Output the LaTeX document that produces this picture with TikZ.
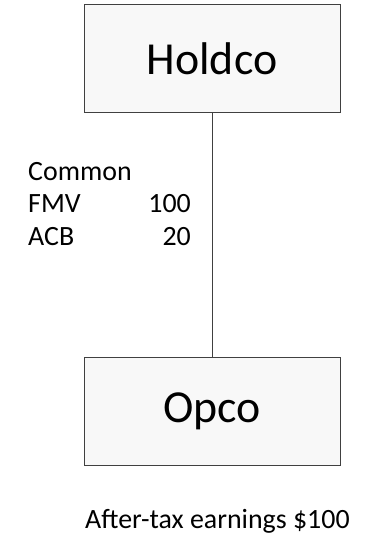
\documentclass[tikz,border=0pt]{standalone}
\usepackage{fontspec}
\setmainfont{Carlito}
\definecolor{boxfill}{HTML}{F8F8F8}
\definecolor{boxline}{HTML}{404040}
\begin{document}
\begin{tikzpicture}[x=1bp,y=-1bp,
  entity/.style={draw=boxline,fill=boxfill,line width=1bp,minimum width=256bp,minimum height=108bp,inner sep=0pt,font=\fontsize{46}{50}\selectfont},
  lbl/.style={inner sep=0pt,font=\fontsize{28}{32}\selectfont},
  link/.style={draw=boxline,line width=1bp}]
\useasboundingbox (0,0) rectangle (377,540);
\node[entity] (holdco) at (212,59) {Holdco};
\node[entity] (opco) at (212,411) {Opco};
\draw[link] (holdco.south) -- (opco.north);
\node[lbl,anchor=base west] (common) at (28,181) {Common};
\node[lbl,anchor=base west] (fmv) at (28,213) {FMV};
\node[lbl,anchor=base east] (fmvv) at (191,213) {100};
\node[lbl,anchor=base west] (acb) at (28,245) {ACB};
\node[lbl,anchor=base east] (acbv) at (191,245) {20};
\node[lbl,anchor=base west] (earn) at (85,528) {After-tax earnings \$100};
\end{tikzpicture}
\end{document}
